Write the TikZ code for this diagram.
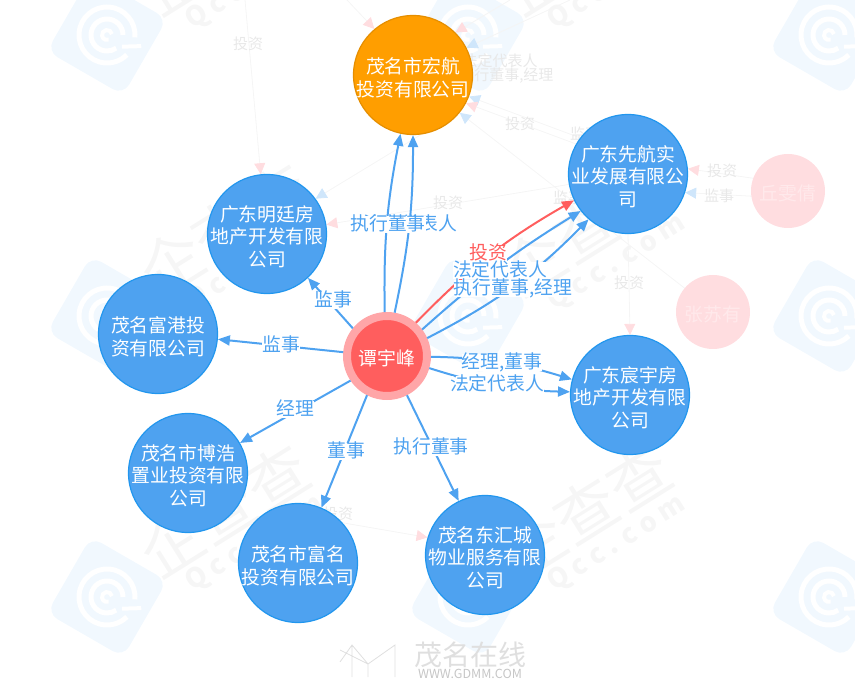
\documentclass[tikz,border=0pt]{standalone}
\usepackage{fontspec}
\setmainfont{Noto Sans CJK SC}
\usetikzlibrary{arrows.meta,backgrounds}

\definecolor{corpblue}{HTML}{4EA2F0}
\definecolor{corpline}{HTML}{2196EE}
\definecolor{holdorange}{HTML}{FF9E00}
\definecolor{mainred}{HTML}{FF5E5E}
\definecolor{mainring}{HTML}{FFA6A8}
\definecolor{palepink}{HTML}{FFDDE0}
\definecolor{paleblue}{HTML}{CFE6FB}
\definecolor{paleline}{HTML}{F5F5F5}
\definecolor{palelabel}{HTML}{E8E8E8}
\definecolor{logotint}{HTML}{F1F8FE}
\definecolor{marktint}{HTML}{F6F6F6}

\tikzset{
  corp/.style={circle,minimum size=119pt,inner sep=0pt,fill=corpblue,draw=corpline,line width=1.2pt},
  hold/.style={corp,fill=holdorange,draw=holdorange!90!black},
  corptext/.style={text=white,align=center,inner sep=0pt,yshift=-2.5pt,font=\fontsize{18.8}{22.7}\selectfont},
  person/.style={circle,minimum size=74pt,inner sep=0pt,fill=palepink},
  link/.style={draw=corpblue,line width=2pt,-{Triangle[length=12pt,width=10pt]}},
  redlink/.style={link,draw=mainred},
  linktext/.style={text=corpblue,fill=white,inner sep=0pt,text height=14pt,text depth=3pt,yshift=-2pt,font=\fontsize{18.8}{22}\selectfont},
  faint/.style={text=palelabel,yshift=-1pt,font=\fontsize{15}{18}\selectfont},
  fadepink/.style={draw=paleline,line width=.8pt,-{Triangle[length=11pt,width=11pt,color=palepink]}},
  fadeblue/.style={draw=paleline,line width=.8pt,-{Triangle[length=11pt,width=11pt,color=paleblue]}}
}

\begin{document}
\begin{tikzpicture}[x=1pt,y=-1pt]
  \useasboundingbox (0,0) rectangle (855,684);

  % people and companies
  \node[person,label={[corptext,text=palepink!65!white]center:丘雯倩}] (qwq) at (788,191) {};
  \node[person,label={[corptext,text=palepink!65!white]center:张苏有}] (zsy) at (713,312) {};

  \node[hold,label={[corptext]center:{茂名市宏航\\投资有限公司}}] (hh) at (413,75) {};
  \node[corp,label={[corptext]center:{广东明廷房\\地产开发有限\\公司}}] (mt) at (267,234) {};
  \node[corp,label={[corptext]center:{广东先航实\\业发展有限公\\司}}] (xh) at (628,174) {};
  \node[corp,label={[corptext]center:{茂名富港投\\资有限公司}}] (fg) at (158,334) {};
  \node[corp,label={[corptext]center:{广东宸宇房\\地产开发有限\\公司}}] (cy) at (630,395) {};
  \node[corp,label={[corptext]center:{茂名市博浩\\置业投资有限\\公司}}] (bh) at (188,473) {};
  \node[corp,label={[corptext]center:{茂名市富名\\投资有限公司}}] (fm) at (298,563) {};
  \node[corp,label={[corptext]center:{茂名东汇城\\物业服务有限\\公司}}] (dh) at (485,555) {};
  \node[circle,minimum size=80pt,inner sep=0pt,fill=mainred,draw=mainring,line width=8pt,
    label={[corptext]center:谭宇峰}] (tan) at (387,356) {};

  \coordinate (upleft) at (245,0);
  \coordinate (uptop) at (347,0);
  \coordinate (upmid) at (510,0);
  \coordinate (upright) at (570,0);

  \begin{scope}[on background layer]
    \clip (0,0) rectangle (855,684);
    % site marks under everything
    \foreach \lx/\ly in {107/35,468/35,829/35,107/316,468/316,829/316,107/597,468/597,829/597} {
      \begin{scope}[shift={(\lx,\ly)},rotate=-30]
        \fill[logotint,rounded corners=12pt] (-44pt,-44pt) rectangle (44pt,44pt);
        \draw[white,line width=5pt] (25:28pt) arc[start angle=25,end angle=345,radius=28pt];
        \draw[white,line width=5pt] (30:16pt) arc[start angle=30,end angle=335,radius=16pt];
        \draw[white,line width=4pt] (40:5pt) arc[start angle=40,end angle=320,radius=5pt];
        \draw[white,line width=4pt] (-8:19pt) -- (12:36pt);
      \end{scope}
    }
    \foreach \mx/\my in {224/-52,586/-52,224/229,586/229,224/510,586/510}
      \node[rotate=32,text=marktint,font=\fontsize{62}{70}\selectfont] at (\mx,\my) {企查查};
    \foreach \mx/\my in {255/-18,617/-18,255/263,617/263,255/544,617/544}
      \node[rotate=32,text=marktint,font=\fontsize{27}{30}\selectfont\bfseries] at (\mx,\my) {Q c c . c o m};

    % faded links
    \draw[fadepink] (upleft) -- (mt.96);
    \draw[fadepink] (uptop) -- (hh.130);
    \draw[fadepink] (upmid) -- (hh.45);
    \draw[fadeblue] (upright) -- (hh.27);
    \draw[fadeblue] (xh.143) -- (hh.339);
    \draw[fadepink] (xh.150) -- (hh.332);
    \draw[fadeblue] (zsy.140) -- (hh.321);
    \draw[fadeblue] (hh.325) -- (mt.36);
    \draw[fadepink] (xh.190) -- (mt.9);
    \draw[fadepink] (qwq.160) -- (xh.5);
    \draw[fadeblue] (qwq.188) -- (xh.342);
    \draw[fadepink] (xh.270) -- (cy.90);
    \draw[fadepink] (fm.42) -- (dh.163);

    \node[faint] (fa) at (248,43) {投资};
    \node[faint] (fb) at (500,60) {法定代表人};
    \node[faint,anchor=east] (fc) at (557,75) {执行董事,经理};
    \node[faint] (fd) at (520,123) {投资};
    \node[faint] (fe) at (585,133) {监事};
    \node[faint] (ff) at (448,202) {投资};
    \node[faint] (fg2) at (568,197) {监事};
    \node[faint] (fh) at (722,170) {投资};
    \node[faint] (fi) at (719,195) {监事};
    \node[faint] (fj) at (629,282) {投资};
    \node[faint] (fk) at (338,513) {投资};
  \end{scope}

  % links of the person
  \draw[link] (tan.93) to[bend left=6] (hh.258);
  \draw[link] (tan.80) to[bend right=6] (hh.270);
  \draw[redlink] (tan.49) to[bend left=8] (xh.206);
  \draw[link] (tan.37) to[bend left=5] (xh.218);
  \draw[link] (tan.24) to[bend right=9] (xh.229);
  \draw[link] (tan.-1) to[bend left=8] (cy.165);
  \draw[link] (tan.-16) to[bend right=8] (cy.177);
  \draw[link] (tan.141) -- (mt.313);
  \draw[link] (tan.175) -- (fg.-5);
  \draw[link] (tan.214) -- (bh.30);
  \draw[link] (tan.243) -- (fm.67);
  \draw[link] (tan.297) -- (dh.116);

  \node[linktext] (t1) at (410,223) {法定代表人};
  \node[linktext] (t2) at (388,223) {执行董事};
  \node[linktext,text=mainred] (t3) at (488,252) {投资};
  \node[linktext] (t4) at (500,269) {法定代表人};
  \node[linktext] (t5) at (513,287) {执行董事,经理};
  \node[linktext] (t6) at (502,361) {经理,董事};
  \node[linktext] (t7) at (497,383) {法定代表人};
  \node[linktext] (t8) at (333,299) {监事};
  \node[linktext] (t9) at (281,344) {监事};
  \node[linktext] (t10) at (295,408) {经理};
  \node[linktext] (t11) at (346,450) {董事};
  \node[linktext] (t12) at (431,446) {执行董事};

  % corner mark of the page
  \draw[gray!25,line width=.8pt] (340,662) -- (352,645) -- (368,664) -- (395,645) -- (395,677)
    (352,645) -- (352,677) (368,664) -- (368,677) (368,664) -- (340,650);
  \node[text=gray!25,inner sep=0pt,font=\fontsize{28}{30}\selectfont] (site) at (470,655) {茂名在线};
  \node[text=gray!45,inner sep=0pt,font=\fontsize{12.5}{14}\selectfont] (url) at (470,674) {WWW.GDMM.COM};
\end{tikzpicture}
\end{document}
